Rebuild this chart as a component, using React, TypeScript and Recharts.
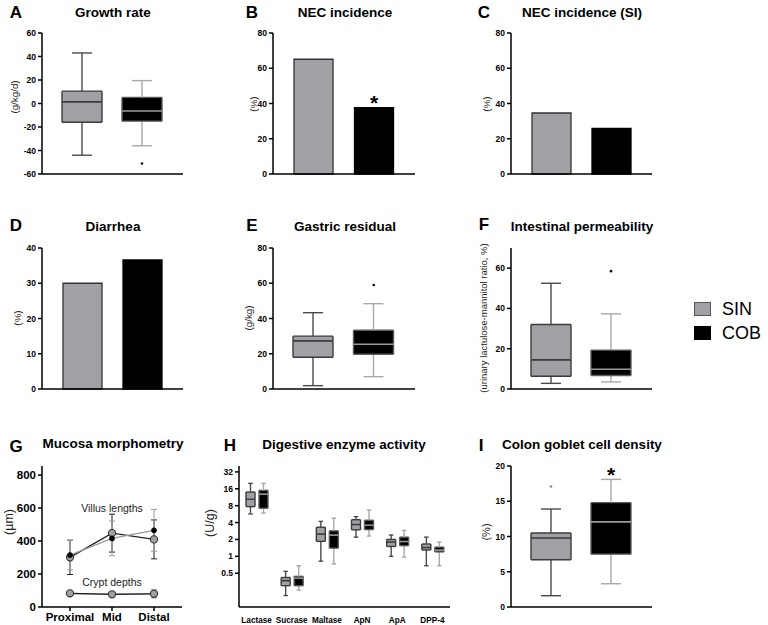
import React from "react";
import {
  ComposedChart,
  Bar,
  Line,
  XAxis,
  YAxis,
  ReferenceLine,
  ReferenceDot,
  ErrorBar,
  LabelList,
  Cell,
} from "recharts";

const FONT = '"Liberation Sans", Arial, Helvetica, sans-serif';

// box values are [min, q1, median, q3, max]
const groups = ["SIN", "COB"];

// A growth rate (g/kg/d)
const growthSin = [-44, -16, 1.5, 10.5, 43];
const growthCob = [-36, -15, -6.3, 5.2, 19.5];
const growthOutliers = [null, -51];

// B, C, D incidence (%)
const necIncidence = [65.1, 37.6];
const necIncidenceSI = [34.6, 25.9];
const diarrhea = [30, 36.6];
const necStars = ["", "*"];

// E gastric residual (g/kg)
const gastricSin = [1.9, 18, 27.4, 30, 43.3];
const gastricCob = [7, 19.7, 25.4, 33.3, 48.4];
const gastricOutliers = [null, 59];

// F intestinal permeability
const permSin = [2.8, 6.3, 14.5, 32, 52.5];
const permCob = [3.5, 6.7, 9.8, 19.3, 37.3];
const permOutliers = [null, 58.5];

// G mucosa morphometry (um), mean and sd
const sites = ["Proximal", "Mid", "Distal"];
const villusSin = [301, 448, 410];
const villusSinSd = [104, 115, 118];
const villusCob = [315, 416, 465];
const villusCobSd = [90, 105, 127];
const cryptSin = [83, 77, 80];
const cryptSinSd = [8, 6, 8];
const cryptCob = [82, 78, 81];
const cryptCobSd = [12, 10, 26];

// H digestive enzymes (U/g)
const enzymes = ["Lactase", "Sucrase", "Maltase", "ApN", "ApA", "DPP-4"];
const enzymeSin = [
  [5.7, 7.7, 10.4, 14, 20],
  [0.2, 0.3, 0.37, 0.42, 0.54],
  [0.82, 1.85, 2.5, 3.3, 4.2],
  [2.2, 2.97, 3.7, 4.5, 5.1],
  [1.0, 1.5, 1.8, 2.0, 2.4],
  [0.68, 1.3, 1.44, 1.66, 2.2],
];
const enzymeCob = [
  [5.9, 7.2, 12.9, 15, 20],
  [0.25, 0.3, 0.41, 0.44, 0.68],
  [0.73, 1.4, 2.4, 2.85, 4.8],
  [2.3, 3.0, 3.6, 4.4, 6.7],
  [0.97, 1.55, 1.84, 2.2, 2.9],
  [0.68, 1.2, 1.3, 1.46, 1.8],
];

// I colon goblet cell density (%)
const gobletSin = [1.6, 6.7, 9.8, 10.5, 13.9];
const gobletCob = [3.3, 7.5, 12.1, 14.8, 18.1];
const gobletOutliers = [17.1, null];
const gobletStars = ["", "*"];

type Sty = { fill: string; stroke: string; median: string; whisker: string; edge: string; out: string };
const SIN: Sty = { fill: "#a1a1a5", stroke: "#3b3b3b", median: "#3b3b3b", whisker: "#4a4a4a", edge: "#333", out: "#888" };
const COB: Sty = { fill: "#000", stroke: "#5a5a5a", median: "#9a9a9a", whisker: "#a8a8a8", edge: "#000", out: "#111" };
const styleOf = (name: string) => (name === "COB" ? COB : SIN);

const boxRow = (name: string, b: number[], out: number | null, star = "") => ({
  name,
  base: b[0],
  lowW: b[1] - b[0],
  lowB: b[2] - b[1],
  upB: b[3] - b[2],
  upW: b[4] - b[3],
  out,
  star,
});

const growthData = [
  boxRow(groups[0], growthSin, growthOutliers[0]),
  boxRow(groups[1], growthCob, growthOutliers[1]),
];
const gastricData = [
  boxRow(groups[0], gastricSin, gastricOutliers[0]),
  boxRow(groups[1], gastricCob, gastricOutliers[1]),
];
const permData = [
  boxRow(groups[0], permSin, permOutliers[0]),
  boxRow(groups[1], permCob, permOutliers[1]),
];
const gobletData = [
  boxRow(groups[0], gobletSin, gobletOutliers[0], gobletStars[0]),
  boxRow(groups[1], gobletCob, gobletOutliers[1], gobletStars[1]),
];
const barRows = (vals: number[], stars?: string[]) =>
  groups.map((g, i) => ({ name: g, v: vals[i], star: stars ? stars[i] : "" }));

const morphData = sites.map((s, i) => ({
  name: s,
  vs: villusSin[i],
  vsE: villusSinSd[i],
  vc: villusCob[i],
  vcE: villusCobSd[i],
  cs: cryptSin[i],
  csE: cryptSinSd[i],
  cc: cryptCob[i],
  ccE: cryptCobSd[i],
}));

// log2 transform for the enzyme axis
const lg = (v: number) => Math.log2(v);
const enzymeData = enzymes.map((e, i) => {
  const s = enzymeSin[i].map(lg);
  const c = enzymeCob[i].map(lg);
  return {
    name: e,
    s_base: s[0], s_lowW: s[1] - s[0], s_lowB: s[2] - s[1], s_upB: s[3] - s[2], s_upW: s[4] - s[3],
    c_base: c[0], c_lowW: c[1] - c[0], c_lowB: c[2] - c[1], c_upB: c[3] - c[2], c_upW: c[4] - c[3],
  };
});

const PARTS = ["base", "lowW", "lowB", "upB", "upW"];

const boxPart = (kind: string, fixed?: Sty) => (p: any) => {
  const { x, y, width, height } = p;
  if (kind === "base" || x == null || y == null) return <g />;
  const s = fixed ?? styleOf(p.payload?.name);
  const top = Math.min(y, y + height);
  const bot = top + Math.abs(height);
  const cx = x + width / 2;
  const lw = 1.4;
  if (kind === "lowW" || kind === "upW") {
    const capY = kind === "lowW" ? bot : top;
    const cap = width / 4;
    return (
      <g stroke={s.whisker} strokeWidth={lw}>
        <line x1={cx} x2={cx} y1={top} y2={bot} />
        <line x1={cx - cap} x2={cx + cap} y1={capY} y2={capY} />
      </g>
    );
  }
  const medY = kind === "lowB" ? top : bot;
  const edgeY = kind === "lowB" ? bot : top;
  return (
    <g>
      <rect x={x} y={top} width={width} height={bot - top} fill={s.fill} />
      <line x1={x} x2={x} y1={top} y2={bot} stroke={s.stroke} strokeWidth={lw} />
      <line x1={x + width} x2={x + width} y1={top} y2={bot} stroke={s.stroke} strokeWidth={lw} />
      <line x1={x} x2={x + width} y1={edgeY} y2={edgeY} stroke={s.stroke} strokeWidth={lw} />
      <line x1={x} x2={x + width} y1={medY} y2={medY} stroke={s.median} strokeWidth={lw} />
    </g>
  );
};

const outDot = (p: any) =>
  p.value == null || p.cy == null ? (
    <g key={"o" + p.index} />
  ) : (
    <circle key={"o" + p.index} cx={p.cx} cy={p.cy} r={1.3} fill={styleOf(p.payload?.name).out} />
  );

const noteLabel = (text: string) => (p: any) => {
  const vb = p.viewBox || {};
  return (
    <text
      x={(vb.x ?? 0) + (vb.width ?? 0) / 2}
      y={(vb.y ?? 0) + (vb.height ?? 0) / 2}
      textAnchor="middle"
      dominantBaseline="central"
      fontSize={10.5}
      fill="#222"
    >
      {text}
    </text>
  );
};

const AXIS = { stroke: "#000", strokeWidth: 1.5 };
const SMALL = { fontSize: 8.5, fontWeight: 700, fill: "#000" };
const BIG = { fontSize: 11.5, fontWeight: 700, fill: "#000" };

const YW = 34, MT = 8, MR = 10;
const frame = (r: number[], xh = 26) => ({
  style: { position: "absolute" as const, left: r[0] - YW, top: r[1] - MT },
  width: r[2] - r[0] + YW + MR,
  height: r[3] - r[1] + MT + xh,
  xh,
  margin: { top: MT, right: MR, left: 0, bottom: 0 },
});

// dotted zero line drawn in a layer under the boxes
function ZeroLayer({ rect, domain, data }: any) {
  const f = frame(rect);
  return (
    <div style={f.style}>
      <ComposedChart width={f.width} height={f.height} data={data} margin={f.margin}>
        <XAxis dataKey="name" tick={false} tickLine={false} axisLine={false} height={f.xh} />
        <YAxis type="number" domain={domain} tick={false} tickLine={false} axisLine={false} width={YW} />
        <ReferenceLine y={0} stroke="#000" strokeWidth={1.3} strokeDasharray="1.5 3" />
      </ComposedChart>
    </div>
  );
}

function BoxPanel({ rect, domain, ticks, data }: any) {
  const f = frame(rect);
  return (
    <div style={f.style}>
      <ComposedChart width={f.width} height={f.height} data={data} margin={f.margin} barSize={40}>
        <XAxis dataKey="name" tick={false} tickLine={false} axisLine={AXIS} height={f.xh} padding={{ left: 10, right: 11 }} />
        <YAxis type="number" domain={domain} ticks={ticks} interval={0} width={YW} tickSize={4} tickMargin={2} tick={SMALL} tickLine={AXIS} axisLine={AXIS} allowDataOverflow />
        {PARTS.map((k) => (
          <Bar key={k} dataKey={k} stackId="box" isAnimationActive={false} shape={boxPart(k)}>
            {k === "upW" && <LabelList dataKey="star" position="top" offset={-3} fontSize={21} fontWeight={700} fill="#000" />}
          </Bar>
        ))}
        <Line dataKey="out" stroke="none" isAnimationActive={false} dot={outDot} activeDot={false} legendType="none" />
      </ComposedChart>
    </div>
  );
}

function BarPanel({ rect, domain, ticks, data }: any) {
  const f = frame(rect);
  return (
    <div style={f.style}>
      <ComposedChart width={f.width} height={f.height} data={data} margin={f.margin} barSize={39}>
        <XAxis dataKey="name" tick={false} tickLine={false} axisLine={AXIS} height={f.xh} padding={{ left: 10, right: 11 }} />
        <YAxis type="number" domain={domain} ticks={ticks} interval={0} width={YW} tickSize={4} tickMargin={2} tick={SMALL} tickLine={AXIS} axisLine={AXIS} />
        <Bar dataKey="v" isAnimationActive={false} strokeWidth={1.3}>
          {data.map((d: any) => (
            <Cell key={d.name} fill={styleOf(d.name).fill} stroke={styleOf(d.name).edge} />
          ))}
          <LabelList dataKey="star" position="top" offset={-2} fontSize={21} fontWeight={700} fill="#000" />
        </Bar>
      </ComposedChart>
    </div>
  );
}

function MorphPanel() {
  const f = frame([42, 466, 182, 607]);
  const grayDot = { r: 3.6, fill: "#a1a1a5", stroke: "#333", strokeWidth: 1.1 };
  const blackDot = { r: 2.6, fill: "#000", stroke: "#000", strokeWidth: 0.5 };
  return (
    <div style={f.style}>
      <ComposedChart width={f.width} height={f.height} data={morphData} margin={f.margin}>
        <XAxis dataKey="name" interval={0} tick={BIG} tickSize={4} tickMargin={2} tickLine={AXIS} axisLine={AXIS} height={f.xh} padding={{ left: 28, right: 28 }} />
        <YAxis type="number" domain={[0, 855]} ticks={[0, 200, 400, 600, 800]} interval={0} width={YW} tickSize={4} tickMargin={2} tick={BIG} tickLine={AXIS} axisLine={AXIS} />
        <Line dataKey="cc" stroke="#9a9a9a" strokeWidth={1.3} isAnimationActive={false} dot={blackDot} activeDot={false}>
          <ErrorBar dataKey="ccE" width={3} stroke="#9a9a9a" strokeWidth={1} />
        </Line>
        <Line dataKey="cs" stroke="#222" strokeWidth={1.3} isAnimationActive={false} dot={grayDot} activeDot={false}>
          <ErrorBar dataKey="csE" width={3} stroke="#222" strokeWidth={1} />
        </Line>
        <Line dataKey="vs" stroke="#222" strokeWidth={1.3} isAnimationActive={false} dot={grayDot} activeDot={false}>
          <ErrorBar dataKey="vsE" width={3} stroke="#222" strokeWidth={1} />
        </Line>
        <Line dataKey="vc" stroke="#9a9a9a" strokeWidth={1.3} isAnimationActive={false} dot={blackDot} activeDot={false}>
          <ErrorBar dataKey="vcE" width={3} stroke="#9a9a9a" strokeWidth={1} />
        </Line>
        <ReferenceDot x="Mid" y={600} r={0} stroke="none" fill="none" label={noteLabel("Villus lengths")} />
        <ReferenceDot x="Mid" y={153} r={0} stroke="none" fill="none" label={noteLabel("Crypt depths")} />
      </ComposedChart>
    </div>
  );
}

function EnzymePanel() {
  const f = frame([239, 466, 450, 607], 22);
  return (
    <div style={f.style}>
      <ComposedChart width={f.width} height={f.height} data={enzymeData} margin={f.margin} barSize={9} barGap={4}>
        <XAxis dataKey="name" interval={0} tick={{ fontSize: 8.2, fontWeight: 700, fill: "#000" }} tickLine={false} tickMargin={4} axisLine={AXIS} height={f.xh} />
        <YAxis type="number" domain={[-3, 5.35]} ticks={[-1, 0, 1, 2, 3, 4, 5]} tickFormatter={(v: number) => String(2 ** v)} interval={0} width={YW} tickSize={4} tickMargin={2} tick={SMALL} tickLine={AXIS} axisLine={AXIS} allowDataOverflow />
        {PARTS.map((k) => (
          <Bar key={"s" + k} dataKey={"s_" + k} stackId="s" isAnimationActive={false} shape={boxPart(k, SIN)} />
        ))}
        {PARTS.map((k) => (
          <Bar key={"c" + k} dataKey={"c_" + k} stackId="c" isAnimationActive={false} shape={boxPart(k, COB)} />
        ))}
      </ComposedChart>
    </div>
  );
}

const Txt = ({ x, y, size, bold = true, children }: any) => (
  <div
    style={{
      position: "absolute",
      left: x,
      top: y,
      transform: "translate(-50%, -50%)",
      fontSize: size,
      fontWeight: bold ? 700 : 400,
      lineHeight: 1,
      whiteSpace: "nowrap",
      color: "#000",
    }}
  >
    {children}
  </div>
);

const VLabel = ({ x, y, size, children }: any) => (
  <div
    style={{
      position: "absolute",
      left: x,
      top: y,
      transform: "translate(-50%, -50%) rotate(-90deg)",
      fontSize: size,
      lineHeight: 1,
      whiteSpace: "nowrap",
      color: "#222",
    }}
  >
    {children}
  </div>
);

const LegendRow = ({ y, sty, label }: any) => (
  <div style={{ position: "absolute", left: 694, top: y, height: 20, display: "flex", alignItems: "center" }}>
    <div style={{ width: 15, height: 12, background: sty.fill, border: "1.5px solid " + (sty === SIN ? "#555" : "#000") }} />
    <span style={{ marginLeft: 11, fontSize: 18, lineHeight: "20px" }}>{label}</span>
  </div>
);

export default function App() {
  return (
    <div style={{ position: "absolute", left: 0, top: 0, width: 768, height: 625, background: "#fff", fontFamily: FONT, overflow: "hidden" }}>
      <ZeroLayer rect={[42, 33, 183, 174]} domain={[-60, 60]} data={growthData} />
      <BoxPanel rect={[42, 33, 183, 174]} domain={[-60, 60]} ticks={[-60, -40, -20, 0, 20, 40, 60]} data={growthData} />
      <BarPanel rect={[273, 33, 415, 174]} domain={[0, 80]} ticks={[0, 20, 40, 60, 80]} data={barRows(necIncidence, necStars)} />
      <BarPanel rect={[511, 33, 652, 174]} domain={[0, 80]} ticks={[0, 20, 40, 60, 80]} data={barRows(necIncidenceSI)} />
      <BarPanel rect={[42, 248, 183, 389]} domain={[0, 40]} ticks={[0, 10, 20, 30, 40]} data={barRows(diarrhea)} />
      <BoxPanel rect={[273, 248, 415, 389]} domain={[0, 80]} ticks={[0, 20, 40, 60, 80]} data={gastricData} />
      <BoxPanel rect={[511, 248, 652, 389]} domain={[0, 70]} ticks={[0, 20, 40, 60]} data={permData} />
      <MorphPanel />
      <EnzymePanel />
      <BoxPanel rect={[511, 466, 652, 607]} domain={[0, 20]} ticks={[0, 5, 10, 15, 20]} data={gobletData} />

      <Txt x={16} y={12} size={17}>A</Txt>
      <Txt x={252} y={12} size={17}>B</Txt>
      <Txt x={484} y={12} size={17}>C</Txt>
      <Txt x={16} y={225} size={17}>D</Txt>
      <Txt x={252} y={225} size={17}>E</Txt>
      <Txt x={484} y={224} size={17}>F</Txt>
      <Txt x={16} y={446} size={17}>G</Txt>
      <Txt x={230} y={445} size={17}>H</Txt>
      <Txt x={481} y={445} size={17}>I</Txt>

      <Txt x={113} y={13} size={13.5}>Growth rate</Txt>
      <Txt x={345} y={13} size={13.5}>NEC incidence</Txt>
      <Txt x={582} y={13} size={13.5}>NEC incidence (SI)</Txt>
      <Txt x={113} y={227} size={13.5}>Diarrhea</Txt>
      <Txt x={345} y={227} size={13.5}>Gastric residual</Txt>
      <Txt x={582} y={227} size={13.5}>Intestinal permeability</Txt>
      <Txt x={113} y={444} size={13.5}>Mucosa morphometry</Txt>
      <Txt x={344} y={445} size={13.5}>Digestive enzyme activity</Txt>
      <Txt x={582} y={445} size={13.5}>Colon goblet cell density</Txt>

      <VLabel x={15} y={97} size={9.8}>(g/kg/d)</VLabel>
      <VLabel x={254} y={104} size={9.8}>(%)</VLabel>
      <VLabel x={487} y={104} size={9.8}>(%)</VLabel>
      <VLabel x={18} y={318} size={9.8}>(%)</VLabel>
      <VLabel x={249} y={318} size={9.8}>(g/kg)</VLabel>
      <VLabel x={484} y={318} size={9.5}>(urinary lactulose-mannitol ratio, %)</VLabel>
      <VLabel x={9} y={522} size={12.5}>(µm)</VLabel>
      <VLabel x={210} y={523} size={12.5}>(U/g)</VLabel>
      <VLabel x={486} y={532} size={11}>(%)</VLabel>

      <LegendRow y={299} sty={SIN} label="SIN" />
      <LegendRow y={323} sty={COB} label="COB" />
    </div>
  );
}
